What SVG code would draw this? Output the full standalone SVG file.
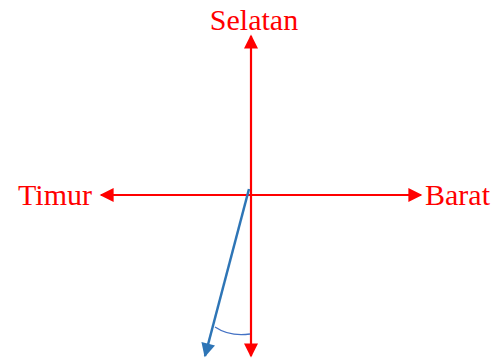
<svg xmlns="http://www.w3.org/2000/svg" width="504" height="363" viewBox="0 0 504 363">
<style>
.lbl{font-family:"Liberation Serif","Times New Roman",serif;font-size:30px;fill:#ff0000}
.red{stroke:#ff0000;stroke-width:2.2;fill:none}
.blue{stroke:#2e75b6;stroke-width:2.5;fill:none}
</style>
<defs>
<marker id="ar" viewBox="0 0 10 10" refX="9" refY="5" markerUnits="userSpaceOnUse" markerWidth="16" markerHeight="14" orient="auto">
<path d="M0,0 L10,5 L0,10 Z" fill="#ff0000"/>
</marker>
<marker id="ab" viewBox="0 0 10 10" refX="9" refY="5" markerUnits="userSpaceOnUse" markerWidth="17" markerHeight="14" orient="auto">
<path d="M0,0 L10,5 L0,10 Z" fill="#2e75b6"/>
</marker>
</defs>
<g id="connectors">
<line class="red" x1="251" y1="196" x2="251" y2="36" marker-end="url(#ar)"/>
<line class="red" x1="251" y1="196" x2="251" y2="356" marker-end="url(#ar)"/>
<line class="red" x1="251" y1="195" x2="101" y2="195" marker-end="url(#ar)"/>
<line class="red" x1="251" y1="195" x2="421" y2="195" marker-end="url(#ar)"/>
<line class="blue" x1="249" y1="189" x2="205" y2="356" marker-end="url(#ab)"/>
<path d="M215,327 Q230,337 250,334" stroke="#4472c4" stroke-width="1.3" fill="none"/>
</g>
<g id="selatan"><text class="lbl" x="254" y="30" text-anchor="middle">Selatan</text></g>
<g id="timur"><text class="lbl" x="92" y="205" text-anchor="end">Timur</text></g>
<g id="barat"><text class="lbl" x="425" y="205">Barat</text></g>
</svg>
